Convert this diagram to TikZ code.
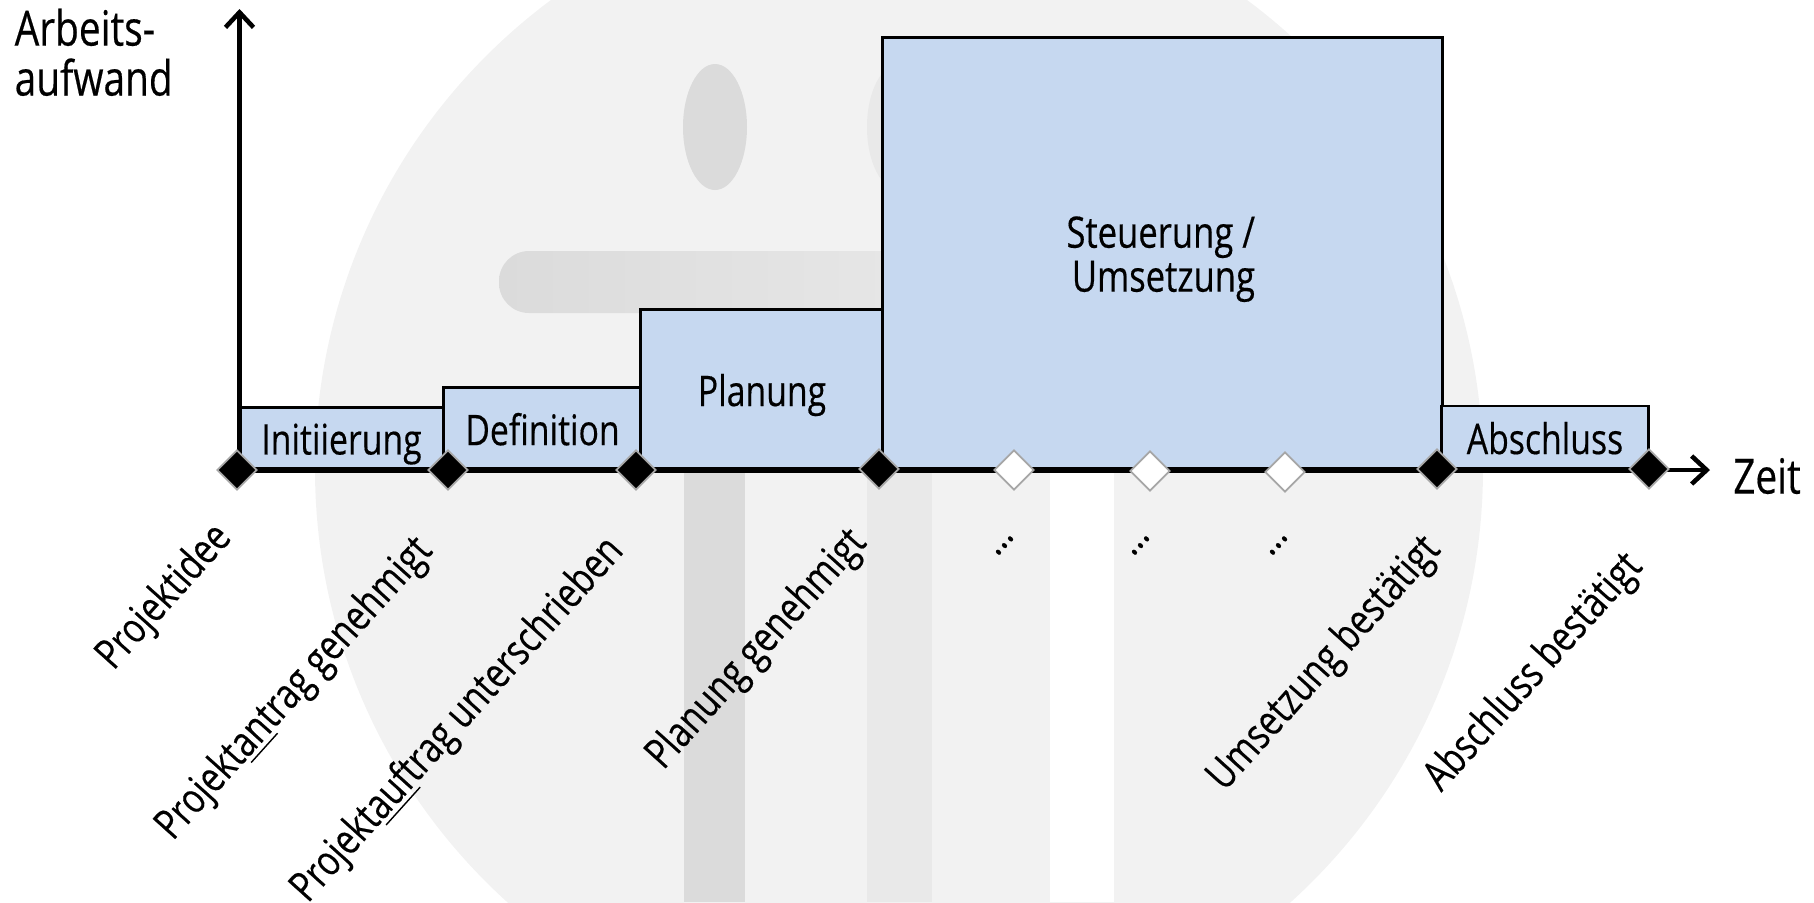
\documentclass[tikz,border=0pt]{standalone}
\usepackage{fontspec}
\setmainfont{Open Sans}[FakeStretch=0.8,FakeBold=0.35]
\usetikzlibrary{shapes.geometric,arrows.meta}
\definecolor{boxblue}{HTML}{C6D8F0}
\definecolor{logolight}{HTML}{F2F2F2}
\definecolor{logomid}{HTML}{E9E9E9}
\definecolor{logodark}{HTML}{DBDBDB}
\tikzset{
  phase/.style={draw=black,line width=.85pt,fill=boxblue,inner sep=0pt,font=\fontsize{12}{12.5}\selectfont,align=right,text depth=0pt},
  stone/.style={diamond,draw=black!35,line width=.5pt,fill=black,minimum width=.4cm,minimum height=.4cm,inner sep=0pt,aspect=1},
  openstone/.style={stone,fill=white},
  mile/.style={rotate=48,anchor=east,inner sep=0pt,font=\fontsize{12}{14.2}\selectfont},
  axis/.style={line width=1.3pt,-{Straight Barb[length=1.5mm,width=2.8mm,line width=1.3pt]}},
}
\begin{document}
\begin{tikzpicture}
  [x=.01cm,y=-.01cm]
  \useasboundingbox (0,0) rectangle (1814,902);

  % logo behind the chart
  \fill[logolight] (899,469) circle [radius=584];
  \fill[white] (1050,470) rectangle (1114,902);
  \fill[logodark] (684,470) rectangle (745,902);
  \fill[logomid] (867,470) rectangle (932,902);
  \fill[logodark] (715,127) ellipse [x radius=32,y radius=63];
  \fill[logomid] (899,127) ellipse [x radius=32,y radius=63];
  \shade[left color=logodark,right color=logomid,rounded corners=.3cm] (499,251) rectangle (1000,313);

  \node[phase,minimum width=2.05cm,minimum height=.63cm] (p1) at (341.5,439) {Initiierung};
  \node[phase,minimum width=1.97cm,minimum height=.82cm] (p2) at (542.5,429) {Definition};
  \node[phase,minimum width=2.42cm,minimum height=1.60cm] (p3) at (762,390) {Planung};
  \node[phase,font=\fontsize{12.3}{12.5}\selectfont,minimum width=5.59cm,minimum height=4.32cm] (p4) at (1162.5,254) {Steuerung /\hspace*{1pt}\\Umsetzung\hspace*{1pt}};
  \node[phase,minimum width=2.06cm,minimum height=.64cm] (p5) at (1545,438) {Abschluss};

  \coordinate (origin) at (239.5,470);
  \coordinate (ytip) at (239.5,9);
  \coordinate (xturn) at (1649,470);
  \coordinate (xtip) at (1710,470);

  \draw[axis] (origin) -- (ytip);
  \draw[line width=1.8pt] (origin) -- (xturn);
  \draw[axis] (xturn) -- (xtip);

  \node[stone] (d1) at (237,470) {};
  \node[stone] (d2) at (448,470) {};
  \node[stone] (d3) at (636,470) {};
  \node[stone] (d4) at (879,469) {};
  \node[openstone] (d5) at (1014,470) {};
  \node[openstone] (d6) at (1150,471) {};
  \node[openstone] (d7) at (1285,472) {};
  \node[stone] (d8) at (1437,469) {};
  \node[stone] (d9) at (1649,469) {};

  \node[font=\fontsize{13.8}{14.2}\selectfont,align=left,anchor=north west,inner sep=0pt] (yname) at (14,8) {Arbeits-\\aufwand};
  \node[font=\fontsize{13.8}{14.2}\selectfont,inner sep=0pt] (xname) at (1767,476) {Zeit};

  \node[mile] (l1) at (225,531) {Projektidee};
  \node[mile] (l2) at (426,544) {Projekt\underline{an}trag genehmigt};
  \node[mile] (l3) at (617,544) {Projekt\underline{auf}trag unterschrieben};
  \node[mile] (l4) at (860,536) {Planung genehmigt};
  \node[mile] (l5) at (1014,535) {...};
  \node[mile] (l6) at (1150,535) {...};
  \node[mile] (l7) at (1288,535) {...};
  \node[mile] (l8) at (1434,543) {Umsetzung bestätigt};
  \node[mile] (l9) at (1636,560) {Abschluss bestätigt};
\end{tikzpicture}
\end{document}
